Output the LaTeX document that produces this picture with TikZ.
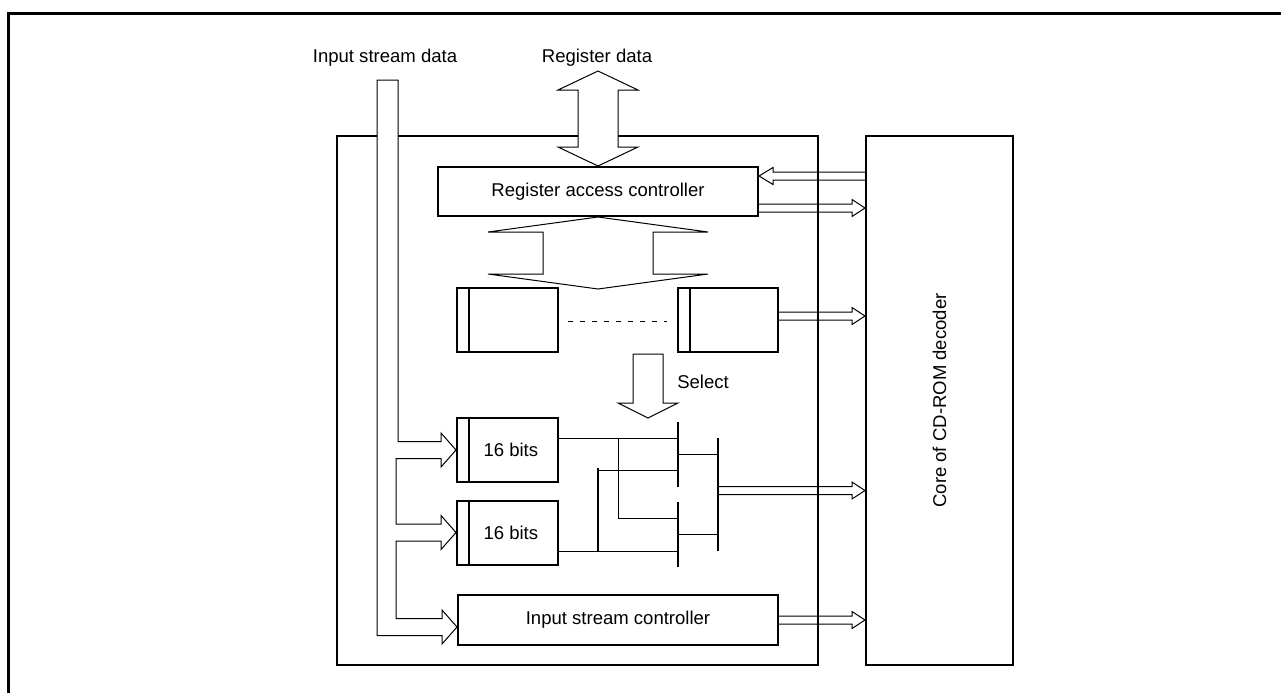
\documentclass[tikz,border=0pt]{standalone}
\usepackage{fontspec}
\setmainfont{Liberation Sans}
\usetikzlibrary{positioning,calc}
\newcommand{\lblfont}{\fontsize{13.9}{16}\selectfont}
\tikzset{
  lbl/.style={font=\lblfont, inner sep=0pt},
  unitbox/.style={draw, line width=1.5pt, inner sep=0pt, minimum height=396.75pt},
  blk/.style={draw, line width=1.5pt, fill=white, inner sep=0pt, font=\lblfont, minimum width=240pt},
  reg/.style={draw, line width=1.5pt, fill=white, inner sep=0pt, font=\lblfont, minimum width=75.75pt, minimum height=48pt},
  thin/.style={line width=0.75pt},
  gate/.style={line width=1.1pt},
  wide/.style={draw, line width=0.75pt, fill=white, line join=miter},
  busline/.style={draw, line width=0.75pt, line join=miter},
}
% #1 tail, #2 tip, #3 head length (negative: points right)
\newcommand{\busarrow}[3]{%
  \draw[busline] ($(#1)+(0,-4)$) -- ($(#2)+(#3,-4)$) -- ++(0,-4.5) -- (#2)
    -- ++(#3,8.5) -- ++(0,-4.5) -- ($(#1)+(0,4)$);}

\begin{document}
\begin{tikzpicture}[x=0.75pt, y=-0.75pt]
  \useasboundingbox (0,0) rectangle (1281,693);
  \draw[line width=2.25pt] (8,693) -- (8,13) -- (1281,13);

  \node[lbl, anchor=base] (insd) at (385,62) {Input stream data};
  \node[lbl, anchor=base] (regd) at (597,62) {Register data};

  \node[unitbox, minimum width=360.75pt] (u) at (577.5,400.5) {};
  \node[unitbox, minimum width=110.25pt] (core) at (939.5,400.5) {};
  \node[lbl, rotate=90] (corelbl) at (core.center) {Core of CD-ROM decoder};

  \node[blk, minimum height=36.75pt] (rac) at (598,191.5) {Register access controller};
  \node[reg] (ra) at (507.5,320) {};
  \node[reg, minimum width=75pt] (rb) at (728,320) {};
  \node[reg] (r1) at (507.5,450) {\hspace{5pt}16 bits};
  \node[reg] (r2) at (507.5,532.5) {\hspace{5pt}16 bits};
  \node[blk, minimum height=37.5pt] (isc) at (618,620) {Input stream controller};
  \foreach \r in {ra,rb,r1,r2}
    \draw[line width=1.5pt] ($(\r.north west)+(13,0)$) -- ($(\r.south west)+(13,0)$);
  \draw[thin, dash pattern=on 4pt off 5pt] ($(ra.east)+(9,1)$) -- ($(rb.west)+(-10,1)$);

  % input stream bus
  \draw[wide] (377,80) -- (398,80)
    |- ([shift={(-15,-8.5)}]r1.west) -- ++(0,-8.5) -- (r1.west) -- ++(-15,17) -- ++(0,-8.5) -- ++(-45,0)
    |- ([shift={(-15,-8.5)}]r2.west) -- ++(0,-8.5) -- (r2.west) -- ++(-15,17) -- ++(0,-8.5) -- ++(-45,0)
    |- ([shift={(-15,-1.5)}]isc.west) -- ++(0,-8.5) -- ([shift={(0,7)}]isc.west) -- ++(-15,17) -- ++(0,-8.5)
    -| (377,80) -- cycle;

  % register data and internal bus
  \draw[wide] (rac.north) -- ++(-40,-19) -- ++(20,0) -- ++(0,-57) -- ++(-20,0) -- ++(40,-19)
    -- ++(40,19) -- ++(-20,0) -- ++(0,57) -- ++(20,0) -- cycle;
  \draw[wide] (rac.south) -- ++(110,15) -- ++(-55,0) -- ++(0,42) -- ++(55,0) -- ++(-110,15)
    -- ++(-110,-15) -- ++(55,0) -- ++(0,-42) -- ++(-55,0) -- cycle;

  % select
  \draw[wide] (633,354) -- ++(30,0) -- ++(0,49) -- ++(15,0) -- ++(-30,15) -- ++(-30,-15) -- ++(15,0) -- cycle;
  \node[lbl, anchor=west] (sel) at (677,382) {Select};

  % selector
  \draw[thin] (r1.east |- 0,438) -- (678,438);
  \draw[thin] (r2.east |- 0,551) -- (678,551);
  \draw[thin] (618,438) |- (678,518);
  \draw[thin] (598,470) -- (678,470);
  \draw[gate] (598,468) -- (598,551);
  \draw[gate] (678,422) -- (678,487);
  \draw[gate] (678,502) -- (678,567);
  \draw[thin] (678,454) -- (718,454);
  \draw[thin] (678,534) -- (718,534);
  \draw[gate] (718,438) -- (718,551);
  \coordinate (mo) at (718,490.5);

  % to and from the core
  \coordinate (a1) at ($(rac.east)+(0,-15.5)$);
  \coordinate (a2) at ($(rac.east)+(0,16.5)$);
  \coordinate (a3) at ($(rb.east)+(0,-4)$);
  \coordinate (k1) at (core.west |- a1);
  \coordinate (k2) at (core.west |- a2);
  \coordinate (k3) at (core.west |- a3);
  \coordinate (k4) at (core.west |- mo);
  \coordinate (k5) at (core.west |- isc.east);
  \busarrow{k1}{a1}{14}
  \busarrow{a2}{k2}{-13}
  \busarrow{a3}{k3}{-13}
  \busarrow{mo}{k4}{-13}
  \busarrow{isc.east}{k5}{-13}
\end{tikzpicture}
\end{document}
